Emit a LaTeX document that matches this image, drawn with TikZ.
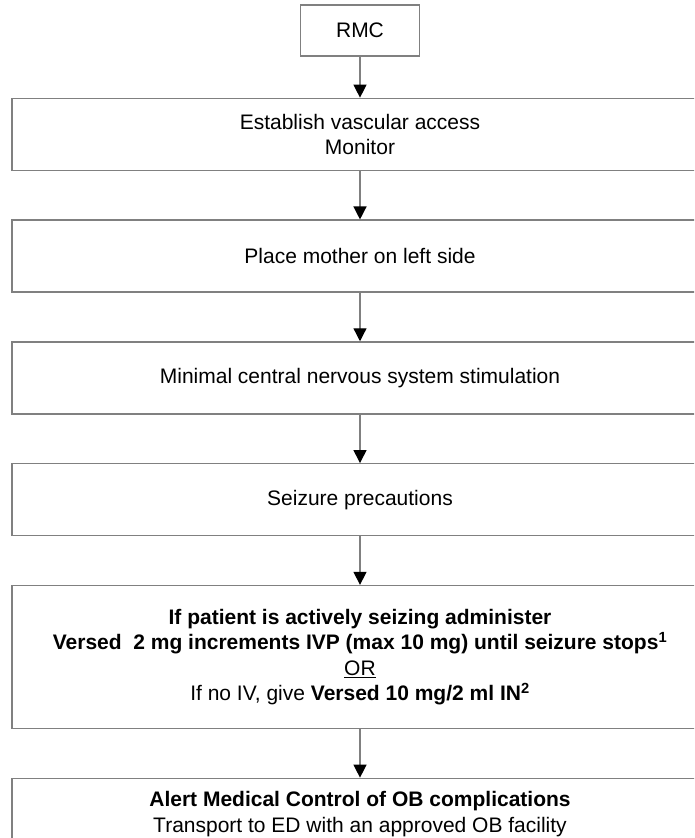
\documentclass[tikz,border=0pt]{standalone}
\usepackage{fontspec}
\setmainfont{Liberation Sans}
\usepackage{tikz}
\usetikzlibrary{arrows.meta,positioning}
\definecolor{boxgray}{RGB}{128,128,128}
\tikzset{
    flowbox/.style={draw=boxgray,line width=1.3pt,minimum width=696pt,minimum height=72pt,align=center,inner sep=2pt},
    startbox/.style={draw=boxgray,line width=1.3pt,minimum width=119pt,minimum height=51pt,inner sep=2pt},
    flowarrow/.style={draw=boxgray,line width=1.3pt,-{Triangle[width=13pt,length=13pt,color=black]}},
    every node/.style={font=\fontsize{21}{25.5}\selectfont}
}
\begin{document}
\begin{tikzpicture}[x=1pt,y=-1pt]
          % the last box runs past the lower and right edges of the page
          \useasboundingbox (0,0) rectangle (694,838);
          \clip (0,0) rectangle (694,838);
          \node[startbox] (rmc) at (360,30.5) {RMC};
          \node[flowbox,below=41pt of rmc] (access) {Establish vascular access\\Monitor};
          \node[flowbox,below=48.5pt of access] (side) {Place mother on left side};
          \node[flowbox,below=48.5pt of side] (cns) {Minimal central nervous system stimulation};
          \node[flowbox,below=48.5pt of cns] (seizure) {Seizure precautions};
          \node[flowbox,below=48.5pt of seizure,minimum height=143pt] (versed)
              {\textbf{If patient is actively seizing administer}\\
               \textbf{Versed~ 2 mg increments IVP (max 10 mg) until seizure stops\textsuperscript{1}}\\
               \underline{OR}\\
               If no IV, give \textbf{Versed 10 mg/2 ml IN\textsuperscript{2}}};
          \node[flowbox,below=48.5pt of versed] (alert)
              {\textbf{Alert Medical Control of OB complications}\\
               Transport to ED with an approved OB facility};
          \foreach \a/\b in {rmc/access,access/side,side/cns,cns/seizure,seizure/versed,versed/alert}{\draw[flowarrow] (\a) -- (\b);}
        \end{tikzpicture}
\end{document}
